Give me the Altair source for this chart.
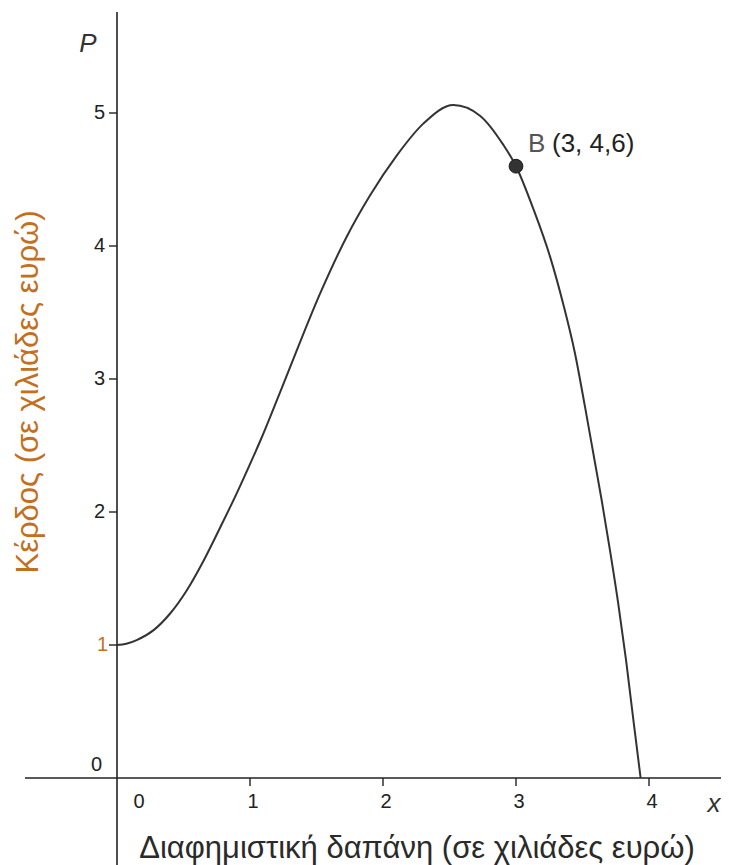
import altair as alt
import pandas as pd

# ---- data ----
spend_x = [0, 0.07, 0.148, 0.273, 0.398, 0.524, 0.649, 0.774, 0.9, 1.0, 1.075, 1.238,
           1.539, 1.727, 1.902, 2.103, 2.303, 2.529, 2.729, 2.905, 3.0, 3.13,
           3.256, 3.356, 3.444, 3.519, 3.594, 3.644, 3.707, 3.769, 3.827, 3.882, 3.937]
profit_p = [1, 1.009, 1.037, 1.11, 1.235, 1.41, 1.63, 1.88, 2.14, 2.36, 2.53, 2.93,
            3.67, 4.07, 4.38, 4.68, 4.92, 5.06, 4.98, 4.76, 4.6, 4.28,
            3.92, 3.56, 3.19, 2.79, 2.37, 2.09, 1.71, 1.31, 0.89, 0.44, 0.0]
x_ticks = [1, 2, 3, 4]
y_ticks = [2, 3, 4, 5]
point_b = {"x": 3, "p": 4.6}
title_x = "Διαφημιστική δαπάνη (σε χιλιάδες ευρώ)"
title_y = "Κέρδος (σε χιλιάδες ευρώ)"

# ---- layout ----
W, H = 713, 857
U = 133.0  # pixels per unit
XMIN = -109 / U
XMAX = XMIN + W / U
YMAX = 770 / U
YMIN = YMAX - H / U
TK = 8 / U
FONT = "Liberation Sans"
DARK = "#222222"
ORANGE = "#c46f1e"

xs = alt.Scale(domain=[XMIN, XMAX], nice=False, zero=False)
ys = alt.Scale(domain=[YMIN, YMAX], nice=False, zero=False)


def X(f):
    return alt.X(f, type="quantitative", scale=xs, axis=None)


def Y(f):
    return alt.Y(f, type="quantitative", scale=ys, axis=None)


curve_df = pd.DataFrame({"x": spend_x, "p": profit_p})
curve = alt.Chart(curve_df).mark_line(interpolate="monotone", color="#333333", strokeWidth=2).encode(
    x=X("x"), y=Y("p"))

axes_df = pd.DataFrame({"x1": [-92 / U, 0], "x2": [XMAX, 0], "y1": [0, YMIN], "y2": [0, 766 / U]})
axes = alt.Chart(axes_df).mark_rule(color=DARK, strokeWidth=1.6).encode(
    x=X("x1"), x2="x2", y=Y("y1"), y2="y2")

xt_df = pd.DataFrame({"v": x_ticks, "a": [0] * 4, "b": [-TK] * 4, "lab": [str(v) for v in x_ticks]})
xt = alt.Chart(xt_df).mark_rule(color=DARK, strokeWidth=1.4).encode(x=X("v"), y=Y("a"), y2="b")
xl = alt.Chart(xt_df).mark_text(font=FONT, fontSize=20, color=DARK, dx=3, dy=24, baseline="middle").encode(
    x=X("v"), y=Y("a"), text="lab")

yt_df = pd.DataFrame({"v": [1] + y_ticks, "a": [0] * 5, "b": [-TK] * 5})
yt = alt.Chart(yt_df).mark_rule(color=DARK, strokeWidth=1.4).encode(x=X("a"), x2="b", y=Y("v"))
yl_df = pd.DataFrame({"v": y_ticks, "a": [0] * 4, "lab": [str(v) for v in y_ticks]})
yl = alt.Chart(yl_df).mark_text(font=FONT, fontSize=20, color=DARK, dx=-12, align="right", baseline="middle").encode(
    x=X("a"), y=Y("v"), text="lab")

one_df = pd.DataFrame({"a": [0], "v": [1], "lab": ["1"]})
y_one = alt.Chart(one_df).mark_text(font=FONT, fontSize=20, color=ORANGE, dx=-9, align="right", baseline="middle").encode(
    x=X("a"), y=Y("v"), text="lab")

zero_df = pd.DataFrame({"a": [0], "lab": ["0"]})
y_zero = alt.Chart(zero_df).mark_text(font=FONT, fontSize=20, color=DARK, dx=-15, dy=-13, align="right", baseline="middle").encode(
    x=X("a"), y=Y("a"), text="lab")
x_zero = alt.Chart(zero_df).mark_text(font=FONT, fontSize=20, color=DARK, dx=22, dy=24, baseline="middle").encode(
    x=X("a"), y=Y("a"), text="lab")

names_df = pd.DataFrame({"x": [-29 / U, 597 / U], "y": [726 / U, -34 / U], "lab": ["P", "x"]})
names = alt.Chart(names_df).mark_text(font=FONT, fontSize=26, fontStyle="italic", color="#333333", baseline="alphabetic").encode(
    x=X("x"), y=Y("y"), text="lab")

tx_df = pd.DataFrame({"x": [300 / U], "y": [-80 / U], "lab": [title_x]})
tx = alt.Chart(tx_df).mark_text(font=FONT, fontSize=31, color="#2a2a2a", baseline="alphabetic").encode(
    x=X("x"), y=Y("y"), text="lab")
ty_df = pd.DataFrame({"x": [-88 / U], "y": [386 / U], "lab": [title_y]})
ty = alt.Chart(ty_df).mark_text(font=FONT, fontSize=31, color=ORANGE, angle=270, baseline="middle").encode(
    x=X("x"), y=Y("y"), text="lab")

b_df = pd.DataFrame({"x": [point_b["x"]], "p": [point_b["p"]], "b": ["B"], "c": ["(3, 4,6)"]})
b_pt = alt.Chart(b_df).mark_point(filled=True, size=190, color="#333333", stroke="#1a1a1a", strokeWidth=1, opacity=1).encode(
    x=X("x"), y=Y("p"))
b_l1 = alt.Chart(b_df).mark_text(font=FONT, fontSize=26, color="#555555", align="left", baseline="alphabetic", dx=12, dy=-14).encode(
    x=X("x"), y=Y("p"), text="b")
b_l2 = alt.Chart(b_df).mark_text(font=FONT, fontSize=26, color="#222222", align="left", baseline="alphabetic", dx=36, dy=-14).encode(
    x=X("x"), y=Y("p"), text="c")

chart = alt.layer(axes, xt, yt, curve, xl, x_zero, yl, y_one, y_zero, names, tx, ty, b_pt, b_l1, b_l2).properties(
    width=W, height=H, padding=0, autosize="none"
).configure_view(stroke=None)

chart.save("out.html", embed_options={"renderer": "svg", "actions": False})
